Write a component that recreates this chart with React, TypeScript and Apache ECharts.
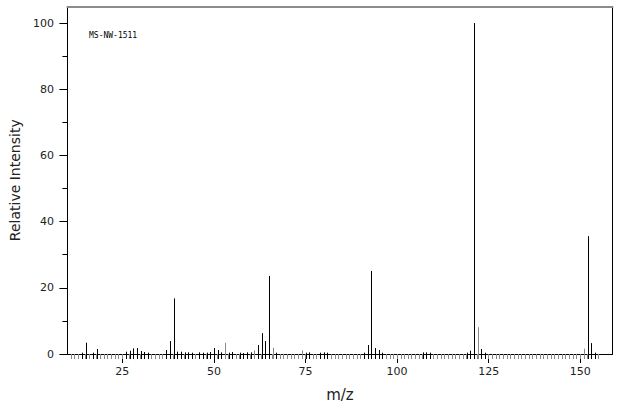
import React, { useEffect, useRef } from "react";
import * as echarts from "echarts";

// m/z values and their relative intensities (%)
const mzValues = [
  14, 15, 17, 18, 26, 27, 28, 29, 30, 31, 32, 37, 38, 39, 40, 41, 42, 43, 44, 46,
  47, 48, 49, 50, 51, 52, 53, 54, 55, 57, 58, 59, 60, 61, 62, 63, 64, 65, 66, 67,
  74, 75, 76, 79, 80, 81, 91, 92, 93, 94, 95, 96, 107, 108, 109, 119, 120, 121, 122,
  123, 124, 151, 152, 153, 154,
];
const intensities = [
  0.4, 3.4, 0.4, 1.5, 0.7, 1.0, 1.7, 1.8, 0.9, 0.6, 0.4, 1.2, 3.9, 16.8, 0.7, 0.7, 0.5, 0.5, 0.4, 0.5,
  0.4, 0.4, 0.6, 1.8, 1.2, 0.5, 3.4, 0.4, 0.6, 0.4, 0.3, 0.5, 0.5, 1.1, 2.7, 6.3, 3.9, 23.6, 1.9, 0.4,
  1.1, 0.4, 0.5, 0.4, 0.5, 0.4, 0.4, 2.7, 25.1, 1.8, 1.2, 0.4, 0.5, 0.5, 0.4, 0.4, 1.0, 100, 8.1,
  1.5, 0.4, 1.6, 35.6, 3.3, 0.4,
];
// peaks drawn in grey in the reference
const grayPeaks = [53, 61, 66, 74, 122, 151];

const xTickLabels = [25, 50, 75, 100, 125, 150];
const xMinorFrom = 11;
const xMinorTo = 155;
const yTickLabels = [0, 20, 40, 60, 80, 100];
const yMinorTicks = [10, 30, 50, 70, 90];

const X_MIN = 10;
const X_MAX = 158.8;
const Y_MAX = 105;

export default function App() {
  const ref = useRef<HTMLDivElement>(null);

  useEffect(() => {
    if (!ref.current) return;
    const chart = echarts.init(ref.current, null, { renderer: "svg" });

    const xMinor: number[] = [];
    for (let m = xMinorFrom; m <= xMinorTo; m++) xMinor.push(m);

    const data = mzValues.map((m, i) => [m, intensities[i], grayPeaks.includes(m) ? 1 : 0]);

    const font = "DejaVu Sans";

    chart.setOption({
      animation: false,
      backgroundColor: "#fff",
      grid: { left: 67, right: 10.5, top: 6.5, bottom: 56, containLabel: false },
      xAxis: [
        {
          type: "value",
          min: X_MIN,
          max: X_MAX,
          position: "bottom",
          name: "m/z",
          nameLocation: "middle",
          nameGap: 33,
          nameTextStyle: { fontFamily: font, fontSize: 15, color: "#222" },
          axisLine: { show: true, onZero: false, lineStyle: { color: "#000", width: 1 } },
          axisTick: { show: true, length: 9, customValues: xTickLabels, lineStyle: { color: "#000" } },
          axisLabel: {
            show: true,
            customValues: xTickLabels,
            margin: 12,
            fontFamily: font,
            fontSize: 11,
            color: "#222",
          },
          splitLine: { show: false },
        },
        {
          type: "value",
          min: X_MIN,
          max: X_MAX,
          position: "bottom",
          axisLine: { show: false, onZero: false },
          axisTick: { show: true, length: 5, customValues: xMinor, lineStyle: { color: "#888" } },
          axisLabel: { show: false },
          splitLine: { show: false },
        },
        {
          type: "value",
          min: X_MIN,
          max: X_MAX,
          position: "top",
          axisLine: { show: true, onZero: false, lineStyle: { color: "#8c8c8c", width: 2 } },
          axisTick: { show: false },
          axisLabel: { show: false },
          splitLine: { show: false },
        },
      ],
      yAxis: [
        {
          type: "value",
          min: 0,
          max: Y_MAX,
          position: "left",
          name: "Relative Intensity",
          nameLocation: "middle",
          nameGap: 42,
          nameTextStyle: { fontFamily: font, fontSize: 14, color: "#222" },
          axisLine: { show: true, onZero: false, lineStyle: { color: "#000", width: 1 } },
          axisTick: { show: true, length: 8, customValues: yTickLabels, lineStyle: { color: "#000" } },
          axisLabel: {
            show: true,
            customValues: yTickLabels,
            margin: 13.5,
            fontFamily: font,
            fontSize: 11,
            color: "#222",
          },
          splitLine: { show: false },
        },
        {
          type: "value",
          min: 0,
          max: Y_MAX,
          position: "left",
          axisLine: { show: false, onZero: false },
          axisTick: { show: true, length: 5, customValues: yMinorTicks, lineStyle: { color: "#000" } },
          axisLabel: { show: false },
          splitLine: { show: false },
        },
        {
          type: "value",
          min: 0,
          max: Y_MAX,
          position: "right",
          axisLine: { show: true, onZero: false, lineStyle: { color: "#000", width: 1 } },
          axisTick: { show: false },
          axisLabel: { show: false },
          splitLine: { show: false },
        },
      ],
      graphic: [
        {
          type: "text",
          left: 89,
          top: 31,
          style: {
            text: "MS-NW-1511",
            fontFamily: "DejaVu Sans Mono",
            fontSize: 8,
            fill: "#000",
          },
        },
      ],
      series: [
        {
          type: "custom",
          xAxisIndex: 0,
          yAxisIndex: 0,
          clip: false,
          encode: { x: 0, y: 1 },
          data,
          renderItem: (params: any, api: any) => {
            const m = api.value(0);
            const v = api.value(1);
            const gray = api.value(2);
            const top = api.coord([m, v]);
            const base = api.coord([m, 0]);
            const x = Math.round(top[0]) + 0.5;
            return {
              type: "line",
              shape: { x1: x, y1: base[1] + 5, x2: x, y2: top[1] },
              style: { stroke: gray ? "#8a8a8a" : "#000", lineWidth: 1 },
            };
          },
        },
      ],
    });

    return () => chart.dispose();
  }, []);

  return (
    <div
      ref={ref}
      style={{ position: "fixed", left: 0, top: 0, width: 623, height: 410, background: "#fff" }}
    />
  );
}
